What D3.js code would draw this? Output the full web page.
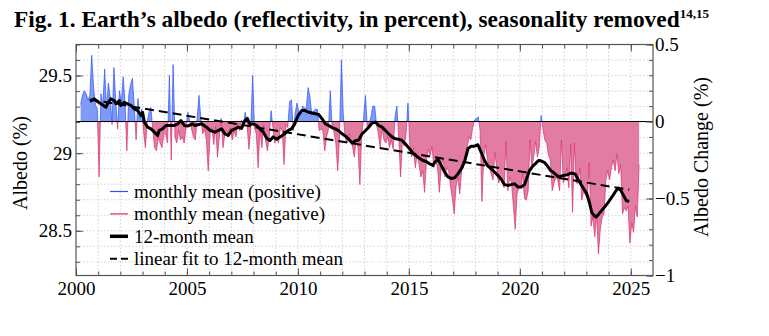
<!DOCTYPE html>
<html>
<head>
<meta charset="utf-8">
<script src="https://d3js.org/d3.v7.min.js"></script>
<style>
  body { margin: 0; background: #fff; }
  svg { display: block; font-family: "Liberation Serif", "Times New Roman", serif; }
</style>
</head>
<body>
<div id="chart"></div>
<script>
const width = 769
const height = 336

// monthly albedo anomaly (albedo change, %), first value = March 2000
const firstYear = 2000
const firstMonth = 3
const monthlyChange = [
  0.11, 0.17, 0.20, 0.18, 0.14, 0.17, 0.43, 0.22, 0.11, 0.08,                 // 2000 (Mar-Dec)
  -0.36, 0.18, 0.10, 0.34, 0.08, 0.25, 0.16, -0.02, 0.35, 0.13, -0.05, 0.20,  // 2001
  0.12, 0.29, 0.12, -0.19, 0.17, 0.24, 0.28, 0.10, -0.12, 0.15, 0.02, 0.08,   // 2002
  -0.06, -0.17, 0.00, 0.06, 0.09, -0.05, -0.17, -0.19, -0.10, -0.14, -0.17, -0.08, // 2003
  -0.08, -0.14, 0.30, -0.25, 0.37, -0.10, -0.14, -0.06, -0.12, -0.10, -0.14, -0.04, // 2004
  0.06, 0.00, -0.05, -0.10, -0.12, 0.02, 0.17, 0.02, -0.08, -0.05, -0.12, -0.32,    // 2005
  -0.08, -0.04, -0.15, -0.03, -0.23, -0.10, 0.02, -0.17, -0.08, -0.06, -0.10, -0.04, // 2006
  -0.12, -0.06, -0.10, -0.01, -0.06, 0.01, -0.03, 0.06, -0.02, -0.18, -0.05, 0.30,  // 2007
  -0.04, -0.08, -0.30, -0.05, -0.17, -0.02, -0.12, -0.19, -0.10, 0.07, -0.04, -0.14, // 2008
  -0.10, -0.14, -0.04, -0.06, -0.28, -0.02, -0.04, 0.13, 0.14, -0.06, 0.05, 0.12,   // 2009
  0.06, 0.04, 0.10, 0.09, 0.08, 0.22, 0.16, 0.04, 0.07, 0.08, 0.08, -0.06,          // 2010
  -0.05, -0.06, -0.19, -0.10, -0.05, 0.20, -0.04, -0.07, -0.14, -0.32, -0.10, 0.40, // 2011
  0.05, -0.10, -0.14, -0.08, -0.12, -0.16, -0.23, -0.12, -0.17, -0.41, -0.08, 0.02, // 2012
  0.17, -0.04, -0.02, 0.03, 0.10, 0.10, -0.02, -0.08, -0.17, -0.04, -0.12, -0.14,  // 2013
  -0.10, -0.17, -0.12, -0.18, 0.03, 0.10, -0.10, -0.36, -0.12, -0.16, -0.08, 0.12, // 2014
  -0.15, -0.23, -0.17, -0.30, -0.21, -0.28, -0.36, -0.32, -0.46, -0.25, -0.18, -0.22, // 2015
  -0.16, -0.30, -0.25, -0.30, -0.46, -0.29, -0.24, -0.36, -0.30, -0.32, -0.42, -0.50, // 2016
  -0.60, -0.42, -0.36, -0.47, -0.32, -0.30, -0.22, -0.17, -0.10, -0.12, -0.04, 0.01,  // 2017
  0.02, 0.03, -0.06, -0.52, -0.22, -0.15, -0.25, -0.30, -0.34, -0.38, -0.20, -0.30,   // 2018
  -0.40, -0.36, -0.40, -0.43, -0.13, -0.45, -0.36, -0.40, -0.55, -0.70, -0.47, -0.43, // 2019
  -0.43, -0.34, -0.50, -0.51, -0.45, -0.12, -0.30, -0.23, -0.13, -0.23, -0.17, 0.04,  // 2020
  -0.05, -0.12, -0.14, -0.22, -0.25, -0.45, -0.40, -0.36, -0.38, -0.45, -0.12, -0.40, // 2021
  -0.36, -0.30, -0.43, -0.15, -0.59, -0.14, -0.40, -0.40, -0.30, -0.51, -0.45, -0.48, // 2022
  -0.50, -0.27, -0.68, -0.62, -0.75, -0.60, -0.86, -0.70, -0.62, -0.60, -0.38, -0.32, // 2023
  -0.38, -0.30, -0.25, -0.32, -0.21, -0.34, -0.28, -0.60, -0.56, -0.58, -0.55, -0.79, // 2024
  -0.66, -0.72, -0.55, -0.62, -0.28                                                   // 2025 (Jan-May)
]

// 12-month running mean
const meanYears = [
  2000.63, 2000.82, 2000.97, 2001.12, 2001.35, 2001.42, 2001.57, 2001.72, 2001.80, 2001.95,
  2002.02, 2002.17, 2002.32, 2002.48, 2002.63, 2002.78, 2002.93, 2003.00, 2003.08, 2003.23,
  2003.38, 2003.53, 2003.68, 2003.75, 2003.90, 2004.05, 2004.28, 2004.43, 2004.58, 2004.73,
  2004.88, 2005.03, 2005.25, 2005.36, 2005.66, 2005.88, 2006.04, 2006.26, 2006.56, 2006.71,
  2006.86, 2007.01, 2007.16, 2007.31, 2007.46, 2007.61, 2007.72, 2007.84, 2007.99, 2008.14,
  2008.29, 2008.44, 2008.60, 2008.74, 2008.89, 2009.04, 2009.19, 2009.41, 2009.56, 2009.71,
  2009.86, 2010.01, 2010.17, 2010.32, 2010.49, 2010.79, 2010.94, 2011.09, 2011.24, 2011.39,
  2011.54, 2011.69, 2011.84, 2011.99, 2012.14, 2012.29, 2012.44, 2012.59, 2012.74, 2012.89,
  2013.04, 2013.19, 2013.34, 2013.49, 2013.64, 2013.79, 2013.94, 2014.09, 2014.24, 2014.39,
  2014.54, 2014.69, 2014.84, 2014.99, 2015.21, 2015.44, 2015.63, 2015.78, 2015.93, 2016.08,
  2016.16, 2016.31, 2016.46, 2016.61, 2016.76, 2016.91, 2017.06, 2017.21, 2017.36, 2017.51,
  2017.66, 2017.81, 2017.96, 2018.11, 2018.26, 2018.41, 2018.56, 2018.71, 2018.86, 2019.01,
  2019.16, 2019.31, 2019.46, 2019.61, 2019.76, 2019.91, 2020.06, 2020.21, 2020.43, 2020.58,
  2020.73, 2020.84, 2020.95, 2021.10, 2021.22, 2021.40, 2021.51, 2021.74, 2021.96, 2022.15,
  2022.30, 2022.49, 2022.60, 2022.72, 2022.85, 2023.02, 2023.14, 2023.24, 2023.34, 2023.44,
  2023.56, 2023.69, 2023.85, 2023.99, 2024.10, 2024.22, 2024.33, 2024.44, 2024.56, 2024.67,
  2024.80, 2024.93
]
const meanChange = [
  0.130, 0.147, 0.130, 0.115, 0.093, 0.115, 0.147, 0.136, 0.115, 0.136,
  0.104, 0.125, 0.115, 0.104, 0.082, 0.071, 0.039, 0.060, -0.004, -0.037,
  -0.048, -0.069, -0.090, -0.058, -0.048, -0.026, -0.026, -0.026, -0.015, 0.006,
  -0.026, -0.030, -0.015, -0.026, -0.015, -0.037, -0.058, -0.069, -0.048, -0.080,
  -0.090, -0.058, -0.048, -0.037, -0.045, 0.006, 0.020, -0.020, -0.015, -0.026,
  -0.048, -0.069, -0.110, -0.123, -0.100, -0.115, -0.100, -0.080, -0.058, -0.048,
  -0.015, 0.039, 0.071, 0.071, 0.060, 0.050, 0.045, 0.017, -0.015, -0.026,
  -0.040, -0.048, -0.060, -0.080, -0.095, -0.115, -0.140, -0.125, -0.120, -0.080,
  -0.060, -0.037, -0.010, -0.004, -0.026, -0.037, -0.058, -0.080, -0.100, -0.112,
  -0.115, -0.123, -0.145, -0.170, -0.210, -0.235, -0.253, -0.260, -0.274, -0.285,
  -0.265, -0.245, -0.285, -0.328, -0.360, -0.370, -0.365, -0.340, -0.307, -0.260,
  -0.177, -0.160, -0.160, -0.151, -0.200, -0.253, -0.290, -0.307, -0.328, -0.350,
  -0.375, -0.410, -0.415, -0.410, -0.404, -0.425, -0.425, -0.410, -0.320, -0.290,
  -0.270, -0.253, -0.255, -0.265, -0.285, -0.320, -0.330, -0.360, -0.350, -0.345,
  -0.335, -0.340, -0.370, -0.400, -0.430, -0.470, -0.530, -0.590, -0.610, -0.620,
  -0.600, -0.577, -0.550, -0.523, -0.500, -0.475, -0.450, -0.432, -0.450, -0.480,
  -0.515, -0.518
]

// linear fit to 12-month mean (end points)
const fitYears = [2000.62, 2024.93]
const fitChange = [0.143, -0.443]

const yearTicks = [2000, 2005, 2010, 2015, 2020, 2025]
const albedoTicks = [28.5, 29, 29.5]
const changeTicks = [-1, -0.5, 0, 0.5]
const legendLabels = ['monthly mean (positive)', 'monthly mean (negative)', '12-month mean', 'linear fit to 12-month mean']

const posFill = '#7f9bf5', posLine = '#3050ff'
const negFill = '#e27ca3', negLine = '#d82f6f'

const svg = d3.select('#chart').append('svg')
  .attr('width', width)
  .attr('height', height)

const x = d3.scaleLinear().domain([2000, 2026]).range([76, 653])
const yR = d3.scaleLinear().domain([-1, 0.5]).range([275.5, 44.5])
const yL = d3.scaleLinear().domain([28.212, 29.70]).range([275.5, 44.5])

const plotLeft = x.range()[0], plotRight = x.range()[1]
const plotTop = yR.range()[1], plotBottom = yR.range()[0]

// grid
const grid = svg.append('g')
  .attr('stroke', '#c8c8c8')
  .attr('stroke-width', 0.8)
  .attr('stroke-dasharray', '1.5,2')
grid.selectAll('line.v')
  .data(d3.range(2001, 2026))
  .join('line')
  .attr('class', 'v')
  .attr('x1', d => x(d)).attr('x2', d => x(d))
  .attr('y1', plotTop).attr('y2', plotBottom)
grid.selectAll('line.h')
  .data(d3.range(283, 298).map(d => d / 10))
  .join('line')
  .attr('class', 'h')
  .attr('x1', plotLeft).attr('x2', plotRight)
  .attr('y1', d => yL(d)).attr('y2', d => yL(d))

// monthly data
const monthly = monthlyChange.map((v, i) => ({
  t: firstYear + (firstMonth - 1 + i + 0.5) / 12,
  v: v
}))

const defs = svg.append('defs')
defs.append('clipPath').attr('id', 'clip-pos')
  .append('rect')
  .attr('x', plotLeft).attr('y', plotTop)
  .attr('width', plotRight - plotLeft).attr('height', yR(0) - plotTop)
defs.append('clipPath').attr('id', 'clip-neg')
  .append('rect')
  .attr('x', plotLeft).attr('y', yR(0))
  .attr('width', plotRight - plotLeft).attr('height', plotBottom - yR(0))

const area = d3.area()
  .x(d => x(d.t))
  .y0(yR(0))
  .y1(d => yR(d.v))
const line = d3.line()
  .x(d => x(d.t))
  .y(d => yR(d.v))

svg.append('path')
  .datum(monthly)
  .attr('clip-path', 'url(#clip-neg)')
  .attr('fill', negFill)
  .attr('d', area)
svg.append('path')
  .datum(monthly)
  .attr('clip-path', 'url(#clip-neg)')
  .attr('fill', 'none')
  .attr('stroke', negLine)
  .attr('stroke-width', 0.7)
  .attr('d', line)

svg.append('path')
  .datum(monthly)
  .attr('clip-path', 'url(#clip-pos)')
  .attr('fill', posFill)
  .attr('d', area)
svg.append('path')
  .datum(monthly)
  .attr('clip-path', 'url(#clip-pos)')
  .attr('fill', 'none')
  .attr('stroke', posLine)
  .attr('stroke-width', 0.7)
  .attr('d', line)

// zero line
svg.append('line')
  .attr('x1', plotLeft).attr('x2', plotRight)
  .attr('y1', yR(0)).attr('y2', yR(0))
  .attr('stroke', '#000')
  .attr('stroke-width', 1.2)

// linear fit
const fit = fitYears.map((t, i) => ({t: t, v: fitChange[i]}))
svg.append('path')
  .datum(fit)
  .attr('fill', 'none')
  .attr('stroke', '#000')
  .attr('stroke-width', 2)
  .attr('stroke-dasharray', '9,5')
  .attr('d', line)

// 12-month mean
const mean = meanYears.map((t, i) => ({t: t, v: meanChange[i]}))
svg.append('path')
  .datum(mean)
  .attr('fill', 'none')
  .attr('stroke', '#000')
  .attr('stroke-width', 3)
  .attr('stroke-linejoin', 'round')
  .attr('d', line)

// axes
const fmt = d3.format('')
const styleAxis = g => {
  g.select('.domain').remove()
  g.selectAll('line').attr('stroke', '#555')
  g.selectAll('text')
    .attr('font-size', 19)
    .attr('font-family', '"Liberation Serif", "Times New Roman", serif')
    .attr('fill', '#000')
}

svg.append('g')
  .attr('transform', `translate(0,${plotBottom})`)
  .call(d3.axisBottom(x).tickValues(d3.range(2000, 2026)).tickSize(-4).tickFormat(''))
  .call(styleAxis)
svg.append('g')
  .attr('transform', `translate(0,${plotBottom})`)
  .call(d3.axisBottom(x).tickValues(yearTicks).tickSize(-7).tickPadding(6).tickFormat(fmt))
  .call(styleAxis)
svg.append('g')
  .attr('transform', `translate(0,${plotTop})`)
  .call(d3.axisTop(x).tickValues(d3.range(2000, 2026)).tickSize(-4).tickFormat(''))
  .call(styleAxis)
svg.append('g')
  .attr('transform', `translate(0,${plotTop})`)
  .call(d3.axisTop(x).tickValues(yearTicks).tickSize(-7).tickFormat(''))
  .call(styleAxis)

svg.append('g')
  .attr('transform', `translate(${plotLeft},0)`)
  .call(d3.axisLeft(yL).tickValues(d3.range(283, 298).map(d => d / 10)).tickSize(-4).tickFormat(''))
  .call(styleAxis)
svg.append('g')
  .attr('transform', `translate(${plotLeft},0)`)
  .call(d3.axisLeft(yL).tickValues(albedoTicks).tickSize(-7).tickPadding(4).tickFormat(fmt))
  .call(styleAxis)

svg.append('g')
  .attr('transform', `translate(${plotRight},0)`)
  .call(d3.axisRight(yR).tickValues(d3.range(-10, 6).map(d => d / 10)).tickSize(-4).tickFormat(''))
  .call(styleAxis)
svg.append('g')
  .attr('transform', `translate(${plotRight},0)`)
  .call(d3.axisRight(yR).tickValues(changeTicks).tickSize(-7).tickPadding(2).tickFormat(fmt))
  .call(styleAxis)

// frame
svg.append('rect')
  .attr('x', plotLeft).attr('y', plotTop)
  .attr('width', plotRight - plotLeft).attr('height', plotBottom - plotTop)
  .attr('fill', 'none')
  .attr('stroke', '#555')
  .attr('stroke-width', 1.2)

// axis titles
svg.append('text')
  .attr('transform', `translate(27,${(plotTop + plotBottom) / 2 + 3}) rotate(-90)`)
  .attr('text-anchor', 'middle')
  .attr('font-size', 20)
  .text('Albedo (%)')
svg.append('text')
  .attr('transform', `translate(708,${(plotTop + plotBottom) / 2 - 3}) rotate(-90)`)
  .attr('text-anchor', 'middle')
  .attr('font-size', 20)
  .text('Albedo Change (%)')

// title
const title = svg.append('text')
  .attr('x', 14)
  .attr('y', 27)
  .attr('font-weight', 'bold')
  .attr('font-size', 21)
const titleMain = title.append('tspan')
  .text('Fig. 1. Earth\u2019s albedo (reflectivity, in percent), seasonality removed')
title.append('tspan')
  .attr('font-size', 13)
  .attr('dy', -9)
  .text('14,15')
// fit the title to its width in the figure
const mainLen = titleMain.node().getComputedTextLength()
titleMain.attr('font-size', 21 * 666 / mainLen)

// legend
const legendStyles = [
  {stroke: posLine, width: 1.2, dash: null},
  {stroke: negLine, width: 1.2, dash: null},
  {stroke: '#000', width: 3.5, dash: null},
  {stroke: '#000', width: 2, dash: '7,4'}
]
const legend = svg.append('g')
  .selectAll('g')
  .data(legendLabels)
  .join('g')
  .attr('transform', (d, i) => `translate(110,${191.5 + i * 22.4})`)
legend.append('line')
  .attr('x1', 0).attr('x2', 18)
  .attr('stroke', (d, i) => legendStyles[i].stroke)
  .attr('stroke-width', (d, i) => legendStyles[i].width)
  .attr('stroke-dasharray', (d, i) => legendStyles[i].dash)
legend.append('text')
  .attr('x', 24)
  .attr('y', 6.5)
  .attr('font-size', 19)
  .text(d => d)
</script>
</body>
</html>
